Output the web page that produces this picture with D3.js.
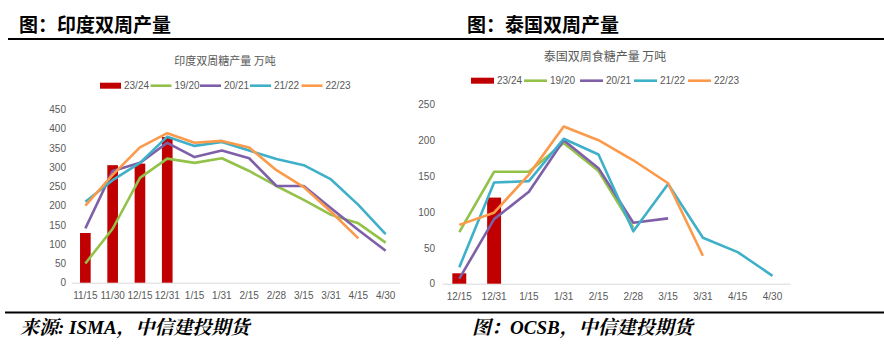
<!DOCTYPE html>
<html><head><meta charset="utf-8">
<script src="https://cdn.jsdelivr.net/npm/d3@7"></script>
<style>
html,body{margin:0;padding:0;background:#fff;}
svg{display:block;}
</style></head>
<body>
<svg id="c" width="884" height="344"></svg>
<script>
// ---------- data ----------
const seriesNames = ["23/24","19/20","20/21","21/22","22/23"];
const seriesColors = ["#c00000","#93c24b","#7f60a8","#3fb0c9","#fa9a4a"];

const indiaCats = ["11/15","11/30","12/15","12/31","1/15","1/31","2/15","2/28","3/15","3/31","4/15","4/30"];
const india2324 = [129,305,309,378,null,null,null,null,null,null,null,null];
const india1920 = [50,140,272,322,311,323,290,251,215,176,154,104];
const india2021 = [141,290,311,363,326,343,323,251,251,193,137,83];
const india2122 = [210,266,311,379,355,365,343,321,305,268,202,126];
const india2223 = [200,280,351,388,363,368,351,292,248,184,115,null];
const indiaTicks = [0,50,100,150,200,250,300,350,400,450];

const thaiCats = ["12/15","12/31","1/15","1/31","2/15","2/28","3/15","3/31","4/15","4/30"];
const thai2324 = [14.5,120,null,null,null,null,null,null,null,null];
const thai1920 = [72,156,156,196,157,78,null,null,null,null];
const thai2021 = [7,90,128,200,161,85,91,null,null,null];
const thai2122 = [23,141,143,202,180,73,139,64,44,11];
const thai2223 = [82,99,152,219,200,172,140,39,null,null];
const thaiTicks = [0,50,100,150,200,250];

const svg = d3.select("#c");
const axisFont = "'Liberation Sans', Arial, 'Noto Sans CJK SC', sans-serif";
const cjkFont = "'Noto Sans CJK SC', sans-serif";

// ---------- headers / footers ----------
svg.append("line").attr("x1",8).attr("x2",884).attr("y1",39).attr("y2",39)
  .attr("stroke","#000").attr("stroke-width",2);
svg.append("line").attr("x1",5).attr("x2",884).attr("y1",312.5).attr("y2",312.5)
  .attr("stroke","#000").attr("stroke-width",2);

const headers = [{x:19, t:"图：印度双周产量"},{x:467, t:"图：泰国双周产量"}];
svg.selectAll("text.hdr").data(headers).join("text").attr("class","hdr")
  .attr("x",d=>d.x).attr("y",31.5)
  .attr("font-family","'Noto Sans CJK SC', sans-serif").attr("font-weight","bold")
  .attr("font-size",19).attr("fill","#000").text(d=>d.t);

const footers = [{x:20, t:"来源: ISMA，中信建投期货"},{x:472, t:"图：OCSB，中信建投期货"}];
svg.selectAll("text.ftr").data(footers).join("text").attr("class","ftr")
  .attr("x",d=>d.x).attr("y",334)
  .attr("font-family","'Liberation Serif', 'Noto Serif CJK SC', 'Noto Sans CJK SC', serif")
  .attr("font-weight","bold").attr("font-style","italic")
  .attr("font-size",19).attr("fill","#000").text(d=>d.t);

// ---------- chart builder ----------
function chart(cfg){
  const g = svg.append("g");
  const x = d3.scaleBand().domain(cfg.cats).range(cfg.xr).paddingInner(0).paddingOuter(0);
  const y = d3.scaleLinear().domain(cfg.yd).range(cfg.yr);

  // title
  g.append("text").attr("x",cfg.titleX).attr("y",cfg.titleY).attr("text-anchor","middle")
    .attr("font-family",cjkFont).attr("font-size",cfg.titleSize).attr("fill","#595959").text(cfg.title);

  // y tick labels
  const yAxis = d3.axisLeft(y).tickValues(cfg.ticks).tickSize(0).tickPadding(0);
  const ya = g.append("g").attr("transform",`translate(${cfg.yLabelX},0)`).call(yAxis);
  ya.select(".domain").remove();
  ya.selectAll("text").attr("font-family",axisFont).attr("font-size",10).attr("fill","#595959");

  // x axis
  const xAxis = d3.axisBottom(x).tickSize(0).tickPadding(9);
  const xa = g.append("g").attr("transform",`translate(0,${y(0)})`).call(xAxis);
  xa.select(".domain").attr("stroke","#d9d9d9").attr("stroke-width",1);
  xa.selectAll("text").attr("font-family",axisFont).attr("font-size",10).attr("fill","#595959");

  // bars
  const bw = x.bandwidth()*cfg.barFrac;
  const barData = cfg.cats.map((c,i)=>({c, v:cfg.bars[i]})).filter(d=>d.v!=null);
  g.selectAll("rect.bar").data(barData).join("rect").attr("class","bar")
    .attr("x",d=>x(d.c)+x.bandwidth()/2-bw/2).attr("width",bw)
    .attr("y",d=>y(d.v)).attr("height",d=>y(0)-y(d.v)).attr("fill",seriesColors[0]);

  // lines
  const line = d3.line().defined(d=>d.v!=null)
    .x(d=>x(d.c)+x.bandwidth()/2).y(d=>y(d.v));
  cfg.lines.forEach((arr,k)=>{
    const data = cfg.cats.map((c,i)=>({c, v:arr[i]}));
    g.append("path").datum(data).attr("d",line).attr("fill","none")
      .attr("stroke",seriesColors[k+1]).attr("stroke-width",2.6)
      .attr("stroke-linejoin","round").attr("stroke-linecap","butt");
  });

  // legend
  const lg = g.append("g");
  cfg.legendX.forEach((lx,i)=>{
    if(i===0){
      lg.append("rect").attr("x",lx).attr("y",cfg.legendY-3).attr("width",cfg.legendSym).attr("height",6).attr("fill",seriesColors[0]);
    } else {
      lg.append("line").attr("x1",lx).attr("x2",lx+cfg.legendSym).attr("y1",cfg.legendY).attr("y2",cfg.legendY)
        .attr("stroke",seriesColors[i]).attr("stroke-width",2.6);
    }
    lg.append("text").attr("x",lx+cfg.legendSym+3).attr("y",cfg.legendY).attr("dy","0.35em")
      .attr("font-family",axisFont).attr("font-size",10).attr("fill","#595959").text(seriesNames[i]);
  });
}

chart({
  cats: indiaCats, xr:[71.7,399.3], yd:[0,450], yr:[282.7,109.3], ticks: indiaTicks,
  bars: india2324, lines:[india1920,india2021,india2122,india2223], barFrac:0.39,
  yLabelX:66, title:"印度双周糖产量 万吨", titleX:225, titleY:65, titleSize:11,
  legendX:[100,150.5,200,250,301.5], legendY:85.7, legendSym:21
});

chart({
  cats: thaiCats, xr:[441.9,789.9], yd:[0,250], yr:[283.7,104.3], ticks: thaiTicks,
  bars: thai2324, lines:[thai1920,thai2021,thai2122,thai2223], barFrac:0.4,
  yLabelX:435, title:"泰国双周食糖产量 万吨", titleX:605, titleY:60.5, titleSize:12,
  legendX:[471,524,580,634,688], legendY:80.7, legendSym:23
});
</script>
</body></html>
